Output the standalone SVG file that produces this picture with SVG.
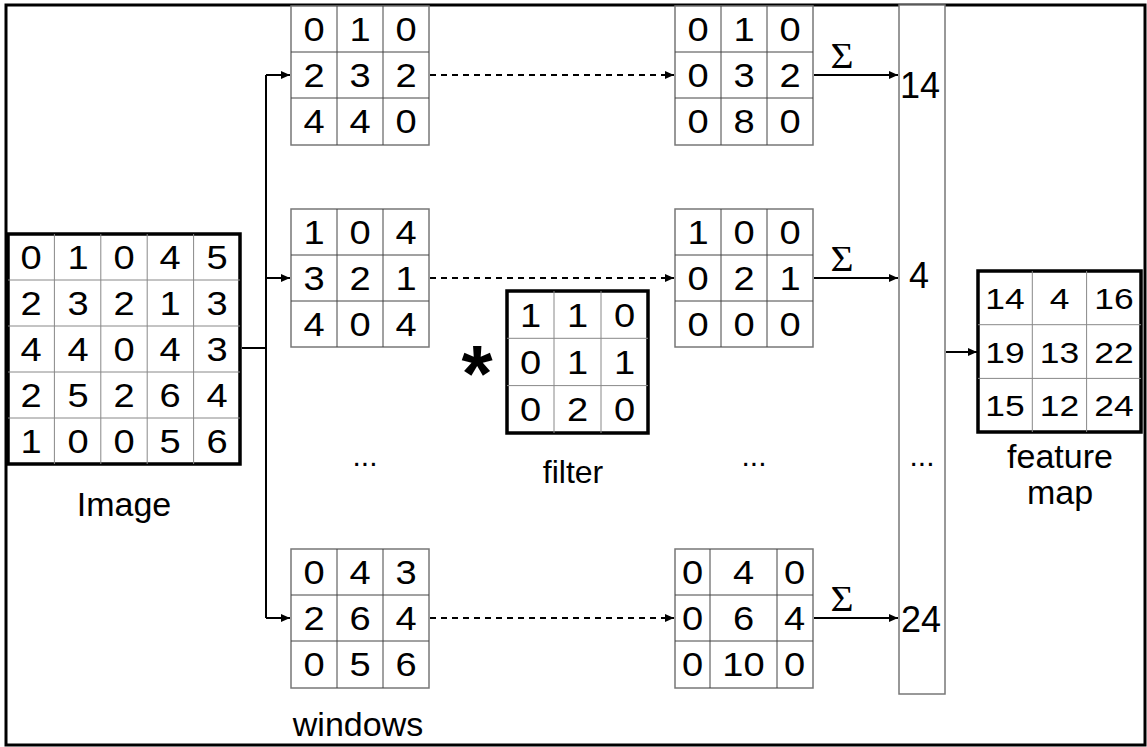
<svg xmlns="http://www.w3.org/2000/svg" width="1147" height="747" viewBox="0 0 1147 747">
<style>
text{font-family:"Liberation Sans",Arial,sans-serif;fill:#000;text-anchor:middle}
.d{font-size:34px;transform-box:fill-box;transform-origin:center;transform:scaleX(1.12)}
.f{font-size:30px;transform-box:fill-box;transform-origin:center;transform:scaleX(1.18)}
.v{font-size:36px}
.lbl{font-size:34px}
.dots{font-size:30px}
.sig{font-family:"Liberation Serif","Times New Roman",serif;font-size:36px;transform-box:fill-box;transform-origin:center;transform:scaleX(1.1)}
.thick{fill:#fff;stroke:#000;stroke-width:3.5}
.win{fill:#fff;stroke:#777;stroke-width:1.5}
.grid{stroke:#888;stroke-width:1;fill:none}
.wgrid{stroke:#444;stroke-width:1;fill:none}
.conn{stroke:#000;stroke-width:2;fill:none}
.dash{stroke:#000;stroke-width:2;fill:none;stroke-dasharray:6 5}
</style>
<defs>
<marker id="ah" markerUnits="userSpaceOnUse" markerWidth="9" markerHeight="8" refX="9" refY="4" orient="auto">
<path d="M0,0 L9,4 L0,8 z" fill="#000"/>
</marker>
</defs>
<rect x="6" y="5" width="1139" height="740" fill="#fff" stroke="#000" stroke-width="3"/>

<g id="column">
<rect x="899" y="5" width="46" height="689" fill="#fff" stroke="#777" stroke-width="1.5"/>
<text class="v" x="920" y="98">14</text>
<text class="v" x="919" y="288">4</text>
<text class="dots" x="922" y="466">...</text>
<text class="v" x="921" y="632">24</text>
</g>

<g id="connectors">
<path class="conn" d="M242,348 H266"/>
<path class="conn" d="M266,75 V618"/>
<path class="conn" d="M266,75 H290" marker-end="url(#ah)"/>
<path class="conn" d="M266,278 H290" marker-end="url(#ah)"/>
<path class="conn" d="M266,618 H290" marker-end="url(#ah)"/>
<path class="dash" d="M430,75 H674" marker-end="url(#ah)"/>
<path class="dash" d="M430,278 H674" marker-end="url(#ah)"/>
<path class="dash" d="M430,618 H674" marker-end="url(#ah)"/>
<path class="conn" d="M814,75 H898" marker-end="url(#ah)"/>
<path class="conn" d="M814,278 H898" marker-end="url(#ah)"/>
<path class="conn" d="M814,618 H898" marker-end="url(#ah)"/>
<path class="conn" d="M946,352 H977" marker-end="url(#ah)"/>
<text class="sig" x="842" y="68">Σ</text>
<text class="sig" x="842" y="271">Σ</text>
<text class="sig" x="842" y="611">Σ</text>
</g>

<g id="image">
<rect class="thick" x="8" y="234" width="232" height="230"/>
<path class="grid" d="M54.4,234V464M100.8,234V464M147.2,234V464M193.6,234V464M8,280H240M8,326H240M8,372H240M8,418H240"/>
<text class="d" x="31" y="269">0</text><text class="d" x="78" y="269">1</text><text class="d" x="124" y="269">0</text><text class="d" x="170" y="269">4</text><text class="d" x="217" y="269">5</text>
<text class="d" x="31" y="315">2</text><text class="d" x="78" y="315">3</text><text class="d" x="124" y="315">2</text><text class="d" x="170" y="315">1</text><text class="d" x="217" y="315">3</text>
<text class="d" x="31" y="361">4</text><text class="d" x="78" y="361">4</text><text class="d" x="124" y="361">0</text><text class="d" x="170" y="361">4</text><text class="d" x="217" y="361">3</text>
<text class="d" x="31" y="407">2</text><text class="d" x="78" y="407">5</text><text class="d" x="124" y="407">2</text><text class="d" x="170" y="407">6</text><text class="d" x="217" y="407">4</text>
<text class="d" x="31" y="453">1</text><text class="d" x="78" y="453">0</text><text class="d" x="124" y="453">0</text><text class="d" x="170" y="453">5</text><text class="d" x="217" y="453">6</text>
<text class="lbl" x="124" y="516">Image</text>
</g>

<g id="window1">
<rect class="win" x="291" y="6" width="138" height="139"/>
<path class="wgrid" d="M337,6V145M383,6V145M291,52H429M291,98H429"/>
<text class="d" x="314" y="41">0</text><text class="d" x="360" y="41">1</text><text class="d" x="406" y="41">0</text>
<text class="d" x="314" y="87">2</text><text class="d" x="360" y="87">3</text><text class="d" x="406" y="87">2</text>
<text class="d" x="314" y="133">4</text><text class="d" x="360" y="133">4</text><text class="d" x="406" y="133">0</text>
</g>

<g id="window2">
<rect class="win" x="291" y="209" width="138" height="138"/>
<path class="wgrid" d="M337,209V347M383,209V347M291,255H429M291,301H429"/>
<text class="d" x="314" y="244">1</text><text class="d" x="360" y="244">0</text><text class="d" x="406" y="244">4</text>
<text class="d" x="314" y="290">3</text><text class="d" x="360" y="290">2</text><text class="d" x="406" y="290">1</text>
<text class="d" x="314" y="336">4</text><text class="d" x="360" y="336">0</text><text class="d" x="406" y="336">4</text>
</g>

<g id="window3">
<rect class="win" x="291" y="549" width="138" height="139"/>
<path class="wgrid" d="M337,549V688M383,549V688M291,595H429M291,641H429"/>
<text class="d" x="314" y="584">0</text><text class="d" x="360" y="584">4</text><text class="d" x="406" y="584">3</text>
<text class="d" x="314" y="630">2</text><text class="d" x="360" y="630">6</text><text class="d" x="406" y="630">4</text>
<text class="d" x="314" y="676">0</text><text class="d" x="360" y="676">5</text><text class="d" x="406" y="676">6</text>
<text class="lbl" x="358" y="736">windows</text>
</g>

<g id="dots-left"><text class="dots" x="365" y="466">...</text></g>

<g id="result1">
<rect class="win" x="675" y="6" width="138" height="139"/>
<path class="wgrid" d="M721,6V145M767,6V145M675,52H813M675,98H813"/>
<text class="d" x="698" y="41">0</text><text class="d" x="744" y="41">1</text><text class="d" x="790" y="41">0</text>
<text class="d" x="698" y="87">0</text><text class="d" x="744" y="87">3</text><text class="d" x="790" y="87">2</text>
<text class="d" x="698" y="133">0</text><text class="d" x="744" y="133">8</text><text class="d" x="790" y="133">0</text>
</g>

<g id="result2">
<rect class="win" x="675" y="209" width="138" height="138"/>
<path class="wgrid" d="M721,209V347M767,209V347M675,255H813M675,301H813"/>
<text class="d" x="698" y="244">1</text><text class="d" x="744" y="244">0</text><text class="d" x="790" y="244">0</text>
<text class="d" x="698" y="290">0</text><text class="d" x="744" y="290">2</text><text class="d" x="790" y="290">1</text>
<text class="d" x="698" y="336">0</text><text class="d" x="744" y="336">0</text><text class="d" x="790" y="336">0</text>
</g>

<g id="result3">
<rect class="win" x="675" y="549" width="138" height="139"/>
<path class="wgrid" d="M710,549V688M777,549V688M675,595H813M675,641H813"/>
<text class="d" x="692.5" y="584">0</text><text class="d" x="743.5" y="584">4</text><text class="d" x="794.5" y="584">0</text>
<text class="d" x="692.5" y="630">0</text><text class="d" x="743.5" y="630">6</text><text class="d" x="794.5" y="630">4</text>
<text class="d" x="692.5" y="676">0</text><text class="d" x="743.5" y="676">10</text><text class="d" x="794.5" y="676">0</text>
</g>

<g id="dots-mid"><text class="dots" x="754" y="466">...</text></g>

<g id="filter">
<text x="477" y="401" style="font-size:80px;font-weight:bold">*</text>
<rect class="thick" x="507" y="291" width="141" height="142"/>
<path class="grid" d="M554,291V433M601,291V433M507,338.3H648M507,385.6H648"/>
<text class="d" x="530.5" y="327">1</text><text class="d" x="577.5" y="327">1</text><text class="d" x="624.5" y="327">0</text>
<text class="d" x="530.5" y="374">0</text><text class="d" x="577.5" y="374">1</text><text class="d" x="624.5" y="374">1</text>
<text class="d" x="530.5" y="421">0</text><text class="d" x="577.5" y="421">2</text><text class="d" x="624.5" y="421">0</text>
<text class="lbl" x="573" y="483" style="font-size:32px">filter</text>
</g>

<g id="featuremap">
<rect class="thick" x="978" y="271" width="163" height="161"/>
<path class="grid" d="M1032.3,271V432M1086.6,271V432M978,324.7H1141M978,378.4H1141"/>
<text class="f" x="1005" y="309">14</text><text class="f" x="1059.5" y="309">4</text><text class="f" x="1114" y="309">16</text>
<text class="f" x="1005" y="363">19</text><text class="f" x="1059.5" y="363">13</text><text class="f" x="1114" y="363">22</text>
<text class="f" x="1005" y="416">15</text><text class="f" x="1059.5" y="416">12</text><text class="f" x="1114" y="416">24</text>
<text class="lbl" x="1060" y="468">feature</text>
<text class="lbl" x="1060" y="504">map</text>
</g>
</svg>
